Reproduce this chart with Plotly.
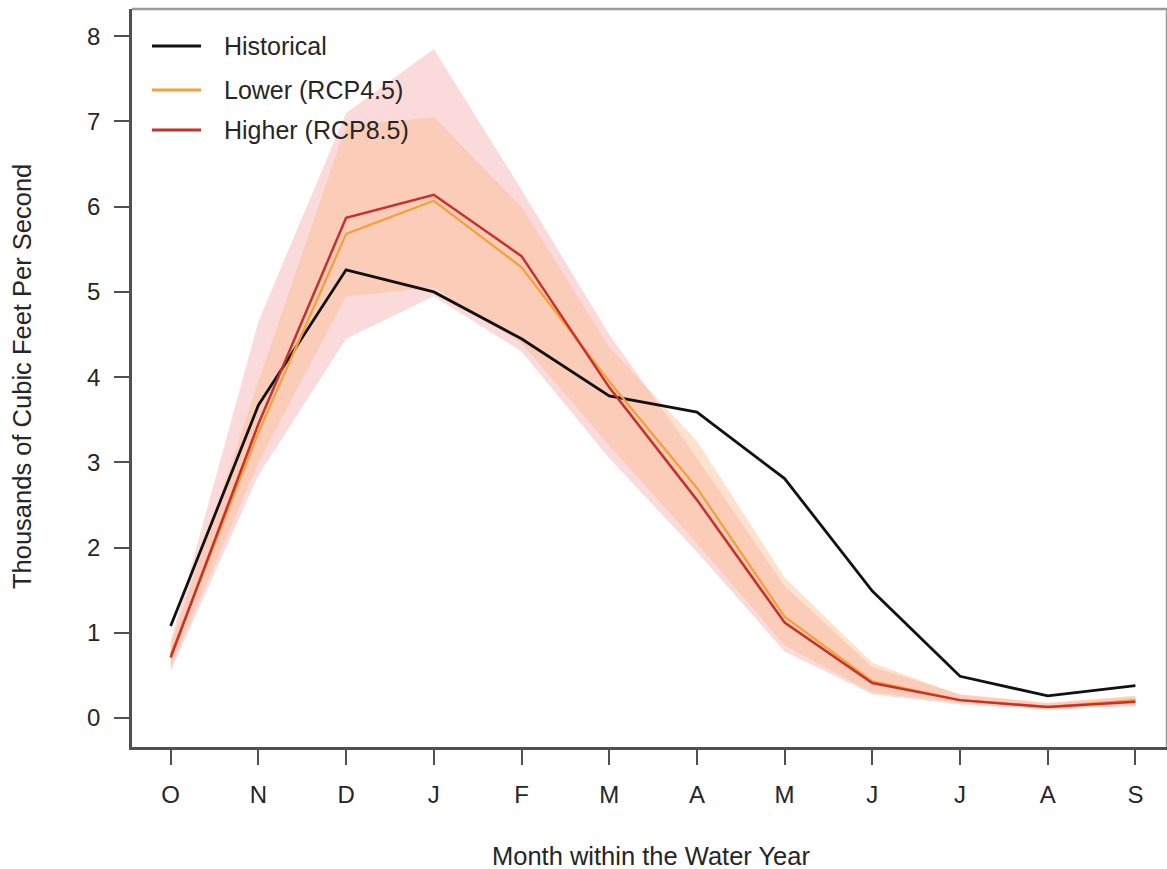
import plotly.graph_objects as go

# Monthly streamflow over the water year (thousands of cfs)
months = ["O", "N", "D", "J", "F", "M", "A", "M", "J", "J", "A", "S"]
month_idx = list(range(1, 13))

historical = [1.08, 3.67, 5.26, 5.00, 4.45, 3.78, 3.59, 2.81, 1.49, 0.49, 0.26, 0.38]
lower_rcp45 = [0.74, 3.35, 5.68, 6.07, 5.29, 3.95, 2.70, 1.19, 0.43, 0.21, 0.13, 0.21]
higher_rcp85 = [0.71, 3.45, 5.87, 6.14, 5.42, 3.88, 2.56, 1.12, 0.41, 0.21, 0.13, 0.19]

# Model ranges
higher_lo = [0.55, 2.85, 4.45, 4.95, 4.30, 3.05, 1.95, 0.78, 0.28, 0.16, 0.10, 0.14]
higher_hi = [0.90, 4.65, 7.10, 7.85, 6.20, 4.50, 3.05, 1.55, 0.60, 0.28, 0.18, 0.26]
lower_lo = [0.60, 3.00, 4.95, 5.05, 4.40, 3.20, 2.05, 0.85, 0.30, 0.18, 0.10, 0.15]
lower_hi = [0.85, 3.95, 6.95, 7.05, 6.00, 4.35, 3.25, 1.65, 0.65, 0.27, 0.17, 0.25]

y_ticks = [0, 1, 2, 3, 4, 5, 6, 7, 8]

FONT = "Liberation Sans, Arial, sans-serif"
TXT = "#262626"
FS = 25

W, H = 1167, 869
ML, MR, MT, MB = 132, 0, 9, 122
PW, PH = W - ML - MR, H - MT - MB


def px(xp):
    return (xp - ML) / PW


def py(yp):
    return (H - MB - yp) / PH


fig = go.Figure()

# Range bands
fig.add_trace(go.Scatter(
    x=month_idx + month_idx[::-1], y=higher_hi + higher_lo[::-1],
    fill="toself", fillcolor="rgba(240,150,150,0.35)",
    line=dict(width=0), mode="lines", hoverinfo="skip", showlegend=False))
fig.add_trace(go.Scatter(
    x=month_idx + month_idx[::-1], y=lower_hi + lower_lo[::-1],
    fill="toself", fillcolor="rgba(253,185,138,0.42)",
    line=dict(width=0), mode="lines", hoverinfo="skip", showlegend=False))

# Series lines
fig.add_trace(go.Scatter(x=month_idx, y=historical, mode="lines",
                         line=dict(color="#111111", width=2.8), name="Historical", showlegend=False))
fig.add_trace(go.Scatter(x=month_idx, y=lower_rcp45, mode="lines",
                         line=dict(color="#F2A23A", width=2.3), name="Lower (RCP4.5)", showlegend=False))
fig.add_trace(go.Scatter(x=month_idx, y=higher_rcp85, mode="lines",
                         line=dict(color="#C8302C", width=2.5), name="Higher (RCP8.5)", showlegend=False))

# Legend drawn at top-left of the panel
legend_items = [("Historical", "#111111", 46), ("Lower (RCP4.5)", "#F2A23A", 90),
                ("Higher (RCP8.5)", "#C8302C", 130)]
shapes = []
annotations = []
for label, color, yy in legend_items:
    shapes.append(dict(type="line", xref="paper", yref="paper",
                       x0=px(152), x1=px(201), y0=py(yy), y1=py(yy),
                       line=dict(color=color, width=2.8)))
    annotations.append(dict(text=label, xref="paper", yref="paper", x=px(222), y=py(yy),
                            xanchor="left", yanchor="middle", showarrow=False,
                            font=dict(family=FONT, size=FS, color=TXT)))

# Box top and right edges
shapes.append(dict(type="line", xref="paper", yref="paper", x0=0, x1=1, y0=1, y1=1,
                   line=dict(color="#9a9a9a", width=2.5)))
shapes.append(dict(type="line", xref="paper", yref="paper", x0=1, x1=1, y0=0, y1=1,
                   line=dict(color="#9a9a9a", width=2.5)))

# Axis titles
annotations.append(dict(text="Month within the Water Year", xref="paper", yref="paper",
                        x=px(651), y=py(856), xanchor="center", yanchor="middle",
                        showarrow=False, font=dict(family=FONT, size=FS + 0.5, color=TXT)))
annotations.append(dict(text="Thousands of Cubic Feet Per Second", xref="paper", yref="paper",
                        x=px(22), y=py(377), xanchor="center", yanchor="middle", textangle=-90,
                        showarrow=False, font=dict(family=FONT, size=FS + 0.5, color=TXT)))

fig.update_layout(
    width=W, height=H,
    margin=dict(l=ML, r=MR, t=MT, b=MB),
    paper_bgcolor="white", plot_bgcolor="white",
    shapes=shapes, annotations=annotations,
    showlegend=False,
)
fig.update_xaxes(
    range=[0.559, 12.36], tickmode="array", tickvals=month_idx, ticktext=months,
    showgrid=False, zeroline=False, showline=True, linecolor="#505050", linewidth=2.5,
    ticks="outside", ticklen=15, tickwidth=1.6, tickcolor="#505050",
    ticklabelstandoff=9,
    tickfont=dict(family=FONT, size=FS - 1, color=TXT),
)
fig.update_yaxes(
    range=[-0.34, 8.32], tickmode="array", tickvals=y_ticks, ticktext=[str(v) for v in y_ticks],
    showgrid=False, zeroline=False, showline=True, linecolor="#505050", linewidth=2.5,
    ticks="outside", ticklen=15, tickwidth=1.6, tickcolor="#505050",
    ticklabelstandoff=9,
    tickfont=dict(family=FONT, size=FS - 1, color=TXT),
)

fig.write_html("out.html")
